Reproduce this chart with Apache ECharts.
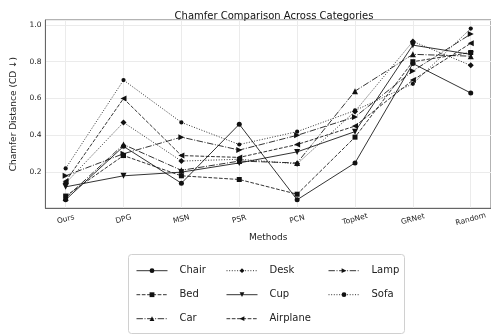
<!DOCTYPE html>
<html>
<head>
<meta charset="utf-8">
<script src="https://cdn.jsdelivr.net/npm/echarts@6/dist/echarts.min.js"></script>
<style>
  html, body { margin: 0; padding: 0; background: #fff; }
  #chart { width: 491px; height: 336px; }
</style>
</head>
<body>
<div id="chart"></div>
<script>
// Methods on the x axis
const methods = ['Ours', 'DPG', 'MSN', 'PSR', 'PCN', 'TopNet', 'GRNet', 'Random'];

// Chamfer distance per category, one value per method
const chair    = [0.05, 0.34, 0.14, 0.46, 0.05, 0.25, 0.79, 0.63];
const bed      = [0.07, 0.29, 0.18, 0.16, 0.08, 0.39, 0.80, 0.85];
const car      = [0.06, 0.35, 0.21, 0.26, 0.25, 0.64, 0.84, 0.83];
const desk     = [0.14, 0.47, 0.26, 0.27, 0.245, 0.53, 0.91, 0.78];
const cup      = [0.12, 0.18, 0.20, 0.25, 0.31, 0.42, 0.89, 0.84];
const airplane = [0.15, 0.60, 0.29, 0.28, 0.35, 0.45, 0.70, 0.90];
const lamp     = [0.18, 0.30, 0.39, 0.32, 0.40, 0.50, 0.75, 0.95];
const sofa     = [0.22, 0.70, 0.47, 0.35, 0.42, 0.535, 0.68, 0.98];

const yTicks = [0.2, 0.4, 0.6, 0.8, 1.0];

// Line dash patterns (solid, dashed, dash-dot, dotted)
const DASH = [3.7, 1.6];
const DASHDOT = [6.4, 1.6, 1, 1.6];
const DOT = [1, 1.65];

const styles = [
  { name: 'Chair',    data: chair,    dash: 'solid', symbol: 'circle',   size: 5,   rot: 0 },
  { name: 'Bed',      data: bed,      dash: DASH,    symbol: 'rect',     size: 5,   rot: 0 },
  { name: 'Car',      data: car,      dash: DASHDOT, symbol: 'triangle', size: 6,   rot: 0 },
  { name: 'Desk',     data: desk,     dash: DOT,     symbol: 'diamond',  size: 6,   rot: 0 },
  { name: 'Cup',      data: cup,      dash: 'solid', symbol: 'triangle', size: 6,   rot: 180 },
  { name: 'Airplane', data: airplane, dash: DASH,    symbol: 'triangle', size: 6,   rot: 90 },
  { name: 'Lamp',     data: lamp,     dash: DASHDOT, symbol: 'triangle', size: 6,   rot: -90 },
  { name: 'Sofa',     data: sofa,     dash: DOT,     symbol: 'circle',   size: 4.2, rot: 0 }
];

const FONT = 'DejaVu Sans';
const INK = '#111';

const series = styles.map(s => ({
  name: s.name,
  type: 'line',
  data: s.data.map((v, i) => [i, v]),
  symbol: s.symbol,
  symbolSize: s.size,
  symbolRotate: s.rot,
  showSymbol: true,
  animation: false,
  lineStyle: { color: INK, width: 1, type: s.dash, opacity: 0.85 },
  itemStyle: { color: INK, borderWidth: 0 },
  emphasis: { disabled: true }
}));

function legendColumn(names, left) {
  return {
    orient: 'vertical',
    left: left,
    top: 258.7,
    padding: 0,
    itemGap: 0,
    itemWidth: 31,
    itemHeight: 6,
    data: names,
    selectedMode: false,
    lineStyle: { width: 1 },
    textStyle: { fontFamily: FONT, fontSize: 10, color: '#222', lineHeight: 24, padding: [0, 0, 0, 7] }
  };
}

const chart = echarts.init(document.getElementById('chart'), null, { renderer: 'canvas' });
chart.setOption({
  animation: false,
  backgroundColor: '#fff',
  title: {
    text: 'Chamfer Comparison Across Categories',
    left: 269, top: 6, textAlign: 'center',
    textStyle: { fontFamily: FONT, fontSize: 10, fontWeight: 'normal', color: '#111' }
  },
  grid: {
    left: 45.4, right: -1.8, top: 20, bottom: 127.7,
    show: true, borderColor: '#666', borderWidth: 1, backgroundColor: 'transparent'
  },
  xAxis: {
    type: 'value',
    min: -0.35, max: 7.35, splitNumber: 8, minInterval: 1,
    name: 'Methods', nameLocation: 'middle', nameGap: 21.5,
    nameTextStyle: { fontFamily: FONT, fontSize: 9, color: '#222' },
    axisLine: { show: true, onZero: false, lineStyle: { color: '#666', width: 1 } },
    axisTick: { show: false },
    splitLine: { show: true, lineStyle: { color: '#ebebeb', width: 1 } },
    axisLabel: {
      showMinLabel: false, showMaxLabel: false,
      rotate: 15, align: 'center', verticalAlign: 'middle', margin: 11,
      fontFamily: FONT, fontSize: 7.5, color: '#222',
      formatter: v => (Math.abs(v - Math.round(v)) < 1e-6 && methods[Math.round(v)]) ? methods[Math.round(v)] : ''
    }
  },
  yAxis: {
    type: 'value',
    min: 0.0035, max: 1.0265, splitNumber: 5,
    name: 'Chamfer Distance (CD ↓)', nameLocation: 'middle', nameGap: 19.5,
    nameTextStyle: { fontFamily: FONT, fontSize: 9, color: '#222' },
    axisLine: { show: true, onZero: false, lineStyle: { color: '#666', width: 1 } },
    axisTick: { show: false },
    splitLine: { show: true, lineStyle: { color: '#ebebeb', width: 1 } },
    axisLabel: {
      showMinLabel: false, showMaxLabel: false, margin: 4,
      fontFamily: FONT, fontSize: 7.5, color: '#222',
      formatter: v => {
        const t = yTicks.find(k => Math.abs(k - v) < 1e-6);
        return t === undefined ? '' : t.toFixed(1);
      }
    }
  },
  legend: [
    legendColumn(['Chair', 'Bed', 'Car'], 136),
    legendColumn(['Desk', 'Cup', 'Airplane'], 226),
    legendColumn(['Lamp', 'Sofa'], 328)
  ],
  graphic: [{
    type: 'rect', z: -1, silent: true,
    shape: { x: 128.5, y: 254.5, width: 276, height: 79, r: 3 },
    style: { fill: '#fff', stroke: '#d0d0d0', lineWidth: 1 }
  }],
  series: series
});
</script>
</body>
</html>
